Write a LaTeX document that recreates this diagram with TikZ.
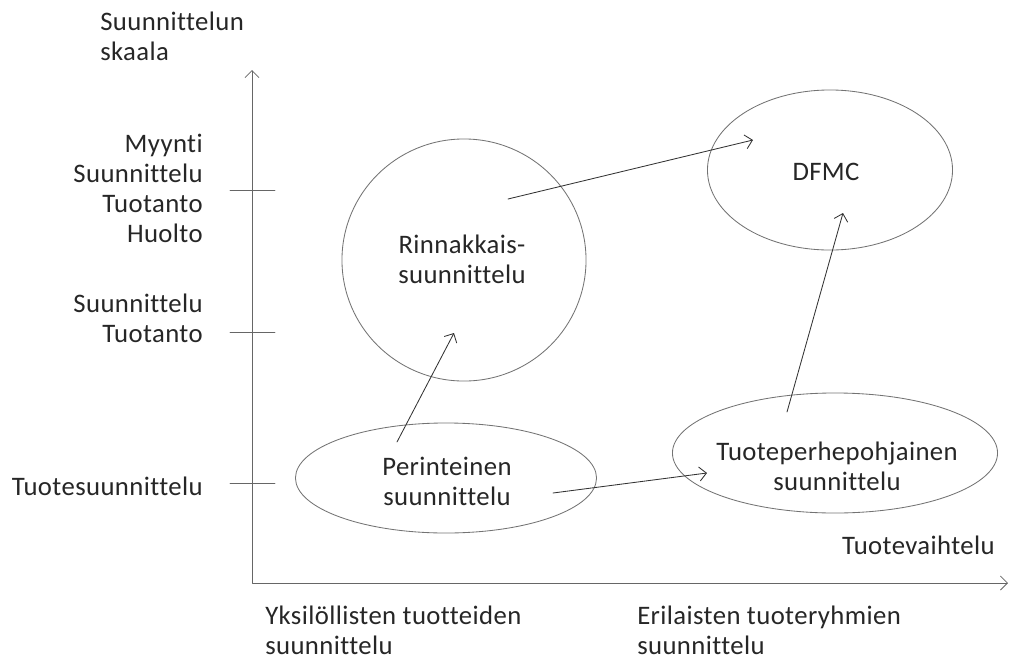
\documentclass[tikz,border=0pt]{standalone}
\usepackage{fontspec}
\setmainfont{Carlito}[Ligatures={NoCommon,NoContextual,NoRare},Contextuals=NoAlternate,LetterSpace=1.5]
\usetikzlibrary{arrows.meta}
\usetikzlibrary{shapes.geometric}

\begin{document}
\begin{tikzpicture}[line cap=round,line join=round,x=0.025cm,y=-0.025cm,
  font=\fontsize{19}{21.3}\selectfont,
  >={Straight Barb[length=5pt,width=10pt]},
  oval/.style={draw=black!55, line width=0.6pt, ellipse, inner sep=0pt},
  pfeil/.style={->, draw=black!80, line width=0.6pt},
  achse/.style={draw=black!60, line width=0.6pt},
  lbl/.style={text=black!85, inner sep=0pt}]
\useasboundingbox (0,0) rectangle (1009,659);

% Achsen
\coordinate (O) at (252,583);
\coordinate (ytop) at (252,70);
\coordinate (xend) at (1008,583);
\draw[achse,<->] (ytop) -- (O) -- (xend);
\foreach \y in {190,332,483}
    \draw[achse] (230,\y) -- (275,\y);

% Achsenbeschriftungen
\node[lbl, anchor=west, align=left] (skaala) at (100,36) {Suunnittelun\\skaala};
\node[lbl, anchor=east, align=right] (myynti) at (203,188) {Myynti\\Suunnittelu\\Tuotanto\\Huolto};
\node[lbl, anchor=east, align=right] (tuotanto) at (203,318) {Suunnittelu\\Tuotanto};
\node[lbl, anchor=east] (tuotesuun) at (203,486) {Tuotesuunnittelu};
\node[lbl, anchor=east] (vaihtelu) at (995,545) {Tuotevaihtelu};
\node[lbl, anchor=west, align=left] (yksil) at (265,630) {Yksilöllisten tuotteiden\\suunnittelu};
\node[lbl, anchor=west, align=left] (erilais) at (637,630) {Erilaisten tuoteryhmien\\suunnittelu};

% Ellipsen
\node[oval, minimum width=6.1cm, minimum height=6.05cm] (rinn) at (464,260) {};
\node[oval, minimum width=6.125cm, minimum height=4cm] (dfmc) at (830,170) {};
\node[oval, minimum width=7.525cm, minimum height=2.75cm] (per) at (446,478) {};
\node[oval, minimum width=8.125cm, minimum height=3cm] (tpe) at (835,453) {};

\node[lbl, align=center] (rinntxt) at (462,259) {Rinnakkais-\\suunnittelu};
\node[lbl] (dfmctxt) at (826,172) {DFMC};
\node[lbl, align=center] (pertxt) at (447,481) {Perinteinen\\suunnittelu};
\node[lbl, align=center] (tpetxt) at (837,466) {Tuoteperhepohjainen\\suunnittelu};

% Pfeile
\coordinate (p1a) at (397,442);
\coordinate (p1b) at (454,333);
\coordinate (p2a) at (553,493);
\coordinate (p2b) at (707,473);
\coordinate (p3a) at (508,199);
\coordinate (p3b) at (753,140);
\coordinate (p4a) at (787,412);
\coordinate (p4b) at (843,213);
\draw[pfeil] (p1a) -- (p1b);
\draw[pfeil] (p2a) -- (p2b);
\draw[pfeil] (p3a) -- (p3b);
\draw[pfeil] (p4a) -- (p4b);
\end{tikzpicture}
\end{document}
